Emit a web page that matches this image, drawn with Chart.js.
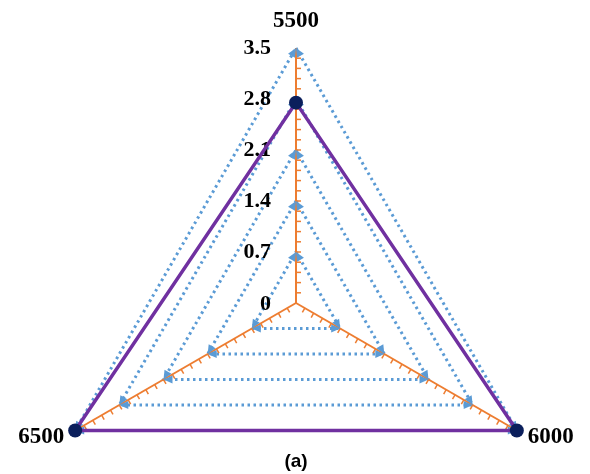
<!DOCTYPE html>
<html>
<head>
<meta charset="utf-8">
<script src="https://cdn.jsdelivr.net/npm/chart.js@4"></script>
<style>
  html, body { margin: 0; padding: 0; overflow: hidden; background: #fff; }
  #wrap { position: relative; width: 590px; height: 570px; }
</style>
</head>
<body>
<div id="wrap"><canvas id="radar"></canvas></div>
<script>
const categories = ['5500', '6000', '6500'];
const values = [2.75, 3.5, 3.5];
const tickValues = [0, 0.7, 1.4, 2.1, 2.8, 3.5];
const tickLabels = ['0', '0.7', '1.4', '2.1', '2.8', '3.5'];
const caption = '(a)';

const blue = '#5b9bd5';
const orange = '#ed7d31';

// labels, minor ticks and arrowheads drawn off the r scale
const extras = {
    id: 'extras',
    beforeDatasetsDraw(chart) {
        const s = chart.scales.r;
        const ctx = chart.ctx;
        const n = categories.length;
        ctx.save();

        // minor ticks on the axes
        ctx.strokeStyle = orange;
        ctx.lineWidth = 1.5;
        for (let i = 0; i < n; i++) {
            const p0 = s.getPointPosition(i, 0);
            const p1 = s.getPointPosition(i, s.drawingArea);
            const len = Math.hypot(p1.x - p0.x, p1.y - p0.y);
            const ux = (p1.x - p0.x) / len, uy = (p1.y - p0.y) / len;
            let nx = -uy, ny = ux;
            if (i === 0) { nx = 1; ny = 0; } else if (ny < 0) { nx = -nx; ny = -ny; }
            for (let v = 0.14; v < 3.5; v += 0.14) {
                const p = s.getPointPositionForValue(i, v);
                ctx.beginPath();
                ctx.moveTo(p.x, p.y);
                ctx.lineTo(p.x + nx * 5, p.y + ny * 5);
                ctx.stroke();
            }
        }

        // arrowheads where the grid meets the axes
        ctx.fillStyle = blue;
        tickValues.slice(1).forEach(v => {
            const pts = [];
            for (let i = 0; i < n; i++) pts.push(s.getPointPositionForValue(i, v));
            for (let i = 0; i < n; i++) {
                const tip = pts[i];
                [pts[(i + 1) % n], pts[(i + n - 1) % n]].forEach(from => {
                    const a = Math.atan2(tip.y - from.y, tip.x - from.x);
                    ctx.beginPath();
                    ctx.moveTo(tip.x, tip.y);
                    ctx.lineTo(tip.x - 9 * Math.cos(a) + 4 * Math.sin(a), tip.y - 9 * Math.sin(a) - 4 * Math.cos(a));
                    ctx.lineTo(tip.x - 9 * Math.cos(a) - 4 * Math.sin(a), tip.y - 9 * Math.sin(a) + 4 * Math.cos(a));
                    ctx.closePath();
                    ctx.fill();
                });
            }
        });

        // tick labels, left of the vertical axis
        ctx.fillStyle = '#000';
        ctx.font = 'bold 22px "Liberation Serif", serif';
        ctx.textAlign = 'right';
        ctx.textBaseline = 'middle';
        tickValues.forEach((v, k) => {
            const y = s.yCenter - s.getDistanceFromCenterForValue(v);
            ctx.fillText(tickLabels[k], s.xCenter - 25, k === 0 ? y + 1 : y);
        });

        // category labels
        ctx.font = 'bold 23px "Liberation Serif", serif';
        const top = s.getPointPosition(0, s.drawingArea + 27);
        ctx.textAlign = 'center';
        ctx.fillText(categories[0], top.x, top.y);
        const right = s.getPointPosition(1, s.drawingArea);
        ctx.textAlign = 'left';
        ctx.fillText(categories[1], right.x + 11, right.y + 7);
        const left = s.getPointPosition(2, s.drawingArea);
        ctx.textAlign = 'right';
        ctx.fillText(categories[2], left.x - 11, left.y + 7);

        // caption under the chart
        ctx.textAlign = 'center';
        ctx.font = 'bold 19px "Liberation Sans", Arial, sans-serif';
        ctx.fillText(caption, s.xCenter, 462);
        ctx.restore();
    }
};

new Chart(document.getElementById('radar'), {
    type: 'radar',
    data: {
        labels: categories,
        datasets: [{
            data: values,
            borderColor: '#7030a0',
            borderWidth: 3.5,
            fill: false,
            pointRadius: 7,
            pointBackgroundColor: '#0b1f5c',
            pointBorderWidth: 0,
            tension: 0
        }]
    },
    options: {
        responsive: true,
        maintainAspectRatio: false,
        animation: false,
        layout: { padding: { left: 41, right: 39, top: 48, bottom: 12 } },
        plugins: { legend: { display: false }, tooltip: { enabled: false } },
        scales: {
            r: {
                min: 0,
                max: 3.5,
                afterBuildTicks: s => { s.ticks = tickValues.map(v => ({ value: v })); },
                ticks: { display: false },
                pointLabels: { display: false },
                angleLines: { color: orange, lineWidth: 2 },
                grid: { color: blue, lineWidth: 3 },
                border: { dash: [2.5, 3.5] }
            }
        }
    },
    plugins: [extras]
});
</script>
</body>
</html>
